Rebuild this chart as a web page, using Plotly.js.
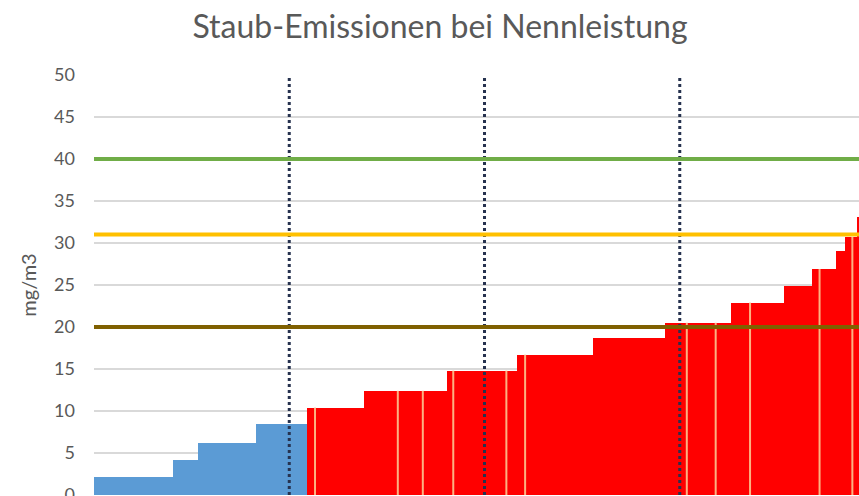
<!DOCTYPE html>
<html>
<head>
<meta charset="utf-8">
<script src="https://cdn.plot.ly/plotly-3.0.1.min.js"></script>
<style>
    html, body { margin: 0; padding: 0; background: #fff; }
    #staub { width: 859px; height: 496px; }
</style>
</head>
<body>
<div id="staub"></div>
<script>
// share of units (%) and dust value (mg/m3), sorted ascending
let blueShares = [10.1, 3.2, 7.4, 6.6];
let blueValues = [2.2, 4.2, 6.2, 8.4];
let redShares = [1.0, 6.3, 4.3, 3.2, 3.1, 0.8, 6.8, 1.3, 1.1, 8.7, 9.2, 2.8, 3.7, 2.0, 2.4, 4.3, 3.6, 1.0, 2.1, 1.2, 0.9, 0.6, 2.3];
let redValues = [10.4, 10.4, 12.4, 12.4, 12.4, 14.8, 14.8, 14.8, 16.7, 16.7, 18.65, 20.5, 20.5, 20.5, 22.9, 22.9, 24.9, 26.9, 26.9, 29.0, 30.7, 30.7, 33.1];

// limits and quartile markers
let limitValues = [40, 31, 20];
let limitColors = ['#70ad47', '#ffc000', '#7f6000'];
let quartiles = [25, 50, 75];

let allShares = blueShares.concat(redShares);
let allValues = blueValues.concat(redValues);

let starts = [];
let pos = 0;
for (let i = 0; i < allShares.length; i++) {
    starts.push(pos);
    pos += allShares[i];
}

function barTrace(from, to, color) {
    let xs = [], ws = [], ys = [];
    for (let i = from; i < to; i++) {
        xs.push(starts[i] + allShares[i] / 2);
        ws.push(allShares[i]);
        ys.push(allValues[i]);
    }
    return {
        type: 'bar',
        x: xs,
        y: ys,
        width: ws,
        marker: { color: color, line: { width: 0 } },
        hoverinfo: 'y'
    };
}

let data = [
    barTrace(0, blueShares.length, '#5b9bd5'),
    barTrace(blueShares.length, allShares.length, '#ff0000')
];

// thin light seams where neighbouring bars have the same value
let sx = [], sy = [];
for (let i = 1; i < allValues.length; i++) {
    if (allValues[i] == allValues[i - 1]) {
        sx.push(starts[i], starts[i], null);
        sy.push(0, allValues[i], null);
    }
}
data.push({
    type: 'scatter',
    mode: 'lines',
    x: sx,
    y: sy,
    line: { color: 'rgba(252,178,130,1)', width: 2 },
    hoverinfo: 'skip'
});

let shapes = [];
quartiles.forEach(q => {
    shapes.push({
        type: 'line',
        xref: 'x', x0: q, x1: q,
        yref: 'y', y0: 0, y1: 50.4,
        line: { color: '#26324f', width: 3, dash: 'dot' }
    });
});
limitValues.forEach((v, i) => {
    shapes.push({
        type: 'line',
        xref: 'paper', x0: 0, x1: 1,
        yref: 'y', y0: v, y1: v,
        line: { color: limitColors[i], width: 4 }
    });
});

let layout = {
    width: 859,
    height: 496,
    margin: { l: 94, r: 0, t: 75, b: 1 },
    paper_bgcolor: '#ffffff',
    plot_bgcolor: '#ffffff',
    font: { family: 'Lato, "Open Sans", sans-serif', color: '#595959' },
    title: {
        text: 'Staub-Emissionen bei Nennleistung',
        font: { size: 32, color: '#595959' },
        xref: 'container', x: 440 / 859, xanchor: 'center',
        yref: 'container', y: 1 - 27 / 496, yanchor: 'middle'
    },
    xaxis: {
        range: [0, 97.95],
        showgrid: false,
        zeroline: false,
        showticklabels: false,
        ticks: ''
    },
    yaxis: {
        range: [0, 50],
        tickmode: 'linear',
        tick0: 0,
        dtick: 5,
        showgrid: true,
        gridcolor: '#d9d9d9',
        gridwidth: 1.5,
        zeroline: false,
        ticks: '',
        ticklabelstandoff: 18,
        ticklabeloverflow: 'allow',
        tickfont: { size: 18, color: '#595959' },
        title: { text: 'mg/m3', font: { size: 20, color: '#595959' }, standoff: 12 }
    },
    shapes: shapes,
    bargap: 0,
    showlegend: false,
    hovermode: 'closest'
};

Plotly.newPlot('staub', data, layout, { displayModeBar: false, staticPlot: true });
</script>
</body>
</html>
